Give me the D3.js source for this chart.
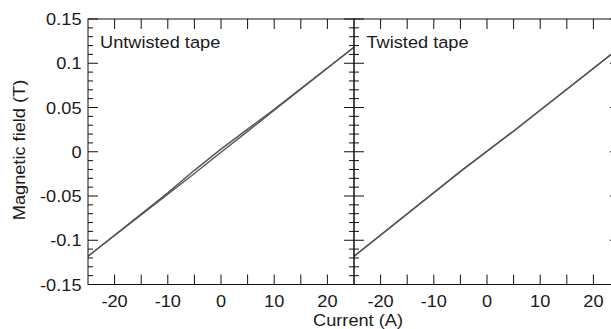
<!DOCTYPE html>
<html>
<head>
<meta charset="utf-8">
<script src="https://cdn.jsdelivr.net/npm/d3@7"></script>
<style>
  html, body { margin: 0; padding: 0; background: #fff; }
  svg { display: block; }
  text { font-family: "Liberation Sans", Arial, Helvetica, sans-serif; fill: #1a1a1a; }
</style>
</head>
<body>
<svg id="chart" width="611" height="329"></svg>
<script>
// ---- data ----
const xTicksMajor = [-20, -15, -10, -5, 0, 5, 10, 15, 20];
const xTickLabels = [-20, -10, 0, 10, 20];
const yTickLabels = [0.15, 0.1, 0.05, 0, -0.05, -0.1, -0.15];
const panelTitles = ["Untwisted tape", "Twisted tape"];

// Untwisted tape: two branches of the B(I) loop
const untwistedCurrent = [-25, -10, -5, 0, 5, 10, 25];
const untwistedUp   = [-0.118, -0.0465, -0.0210, 0.0030, 0.0255, 0.0480, 0.1180];
const untwistedDown = [-0.118, -0.0480, -0.0245, -0.0005, 0.0230, 0.0470, 0.1180];

// Twisted tape: branches nearly coincide
const twistedCurrent = [-25, -5, 5, 25];
const twistedUp   = [-0.1180, -0.0220, 0.0235, 0.1180];
const twistedDown = [-0.1182, -0.0225, 0.0232, 0.1178];

// ---- layout ----
const svg = d3.select("#chart");
const yTop = 19, yBot = 284.5;
const xL = d3.scaleLinear().domain([-25, 25]).range([88, 354]);
const xR = d3.scaleLinear().domain([-25, 25]).range([354, 620]);
const y = d3.scaleLinear().domain([-0.15, 0.15]).range([yBot, yTop]);
const SX = 1.07;   // horizontal stretch of glyphs
const FS = 17;
const fmt = v => String(v);

const yMinor = d3.range(-15, 16).map(v => v / 100);
const isMajorY = v => Math.abs(Math.round(v * 100) % 5) === 0;

// lines
const lineColor = "#555";
function drawLine(xs, cur, vals) {
  const gen = d3.line().x((d, i) => xs(cur[i])).y(d => y(d));
  svg.append("path").datum(vals).attr("d", gen)
    .attr("fill", "none").attr("stroke", lineColor).attr("stroke-width", 1.4)
    .attr("stroke-linejoin", "round");
}
drawLine(xL, untwistedCurrent, untwistedUp);
drawLine(xL, untwistedCurrent, untwistedDown);
drawLine(xR, twistedCurrent, twistedUp);
drawLine(xR, twistedCurrent, twistedDown);

const axisColor = "#111";
// frames
[xL, xR].forEach(xs => {
  svg.append("rect").attr("x", xs.range()[0]).attr("y", yTop)
    .attr("width", xs.range()[1] - xs.range()[0]).attr("height", yBot - yTop)
    .attr("fill", "none").attr("stroke", axisColor).attr("stroke-width", 1);
});

// x ticks top & bottom
[xL, xR].forEach(xs => {
  const g = svg.append("g");
  g.selectAll("line.b").data(xTicksMajor).join("line")
    .attr("x1", d => xs(d)).attr("x2", d => xs(d))
    .attr("y1", yBot).attr("y2", yBot - 10)
    .attr("stroke", axisColor).attr("stroke-width", 1);
  g.selectAll("line.t").data(xTicksMajor).join("line").attr("class", "t")
    .attr("x1", d => xs(d)).attr("x2", d => xs(d))
    .attr("y1", yTop).attr("y2", yTop + 10)
    .attr("stroke", axisColor).attr("stroke-width", 1);
  g.selectAll("text").data(xTickLabels).join("text")
    .attr("transform", d => `translate(${xs(d)},${306.5}) scale(${SX},1)`)
    .attr("text-anchor", "middle").attr("font-size", FS)
    .text(d => fmt(d));
});

// y ticks: left axis (inward), center axis (both), right axis (inward)
function yTicks(x0, dir) {
  svg.append("g").selectAll("line").data(yMinor).join("line")
    .attr("x1", x0).attr("x2", d => x0 + dir * (isMajorY(d) ? 10 : 5))
    .attr("y1", d => y(d)).attr("y2", d => y(d))
    .attr("stroke", axisColor).attr("stroke-width", 1);
}
yTicks(88, 1);
yTicks(354, -1);
yTicks(354, 1);
yTicks(620, -1);

// y tick labels
svg.append("g").selectAll("text").data(yTickLabels).join("text")
  .attr("transform", d => `translate(81.5,${y(d)}) scale(${SX},1)`)
  .attr("dy", "0.36em")
  .attr("text-anchor", "end").attr("font-size", FS)
  .text(d => fmt(d));

// panel titles
svg.append("text").attr("transform", `translate(100,47.5) scale(${SX},1)`)
  .attr("font-size", FS).text(panelTitles[0]);
svg.append("text").attr("transform", `translate(366.5,47.5) scale(${SX},1)`)
  .attr("font-size", FS).text(panelTitles[1]);

// axis titles
svg.append("text").attr("transform", `translate(358,326) scale(${SX},1)`)
  .attr("text-anchor", "middle").attr("font-size", FS).text("Current (A)");
svg.append("text").attr("transform", `translate(25,150) rotate(-90) scale(${SX},1)`)
  .attr("text-anchor", "middle").attr("font-size", FS).text("Magnetic field (T)");
</script>
</body>
</html>
